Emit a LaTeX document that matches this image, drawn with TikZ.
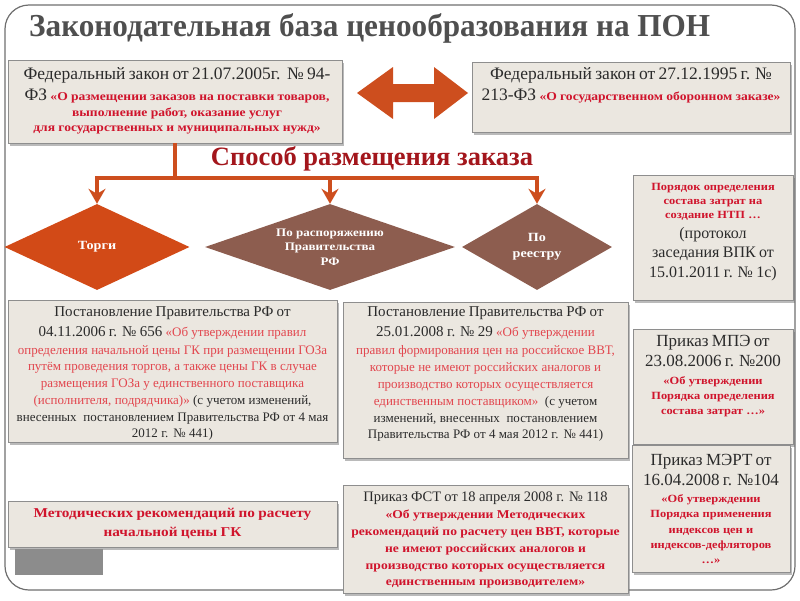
\documentclass[tikz,border=0pt]{standalone}
\usepackage{fontspec}
\setmainfont{Liberation Serif}
\newfontfamily\widefont[FakeStretch=1.13]{Liberation Serif}
\newfontfamily\titlefont[FakeStretch=0.975]{Liberation Serif}
\usetikzlibrary{shapes.geometric,shadows,arrows.meta}
\definecolor{boxfill}{HTML}{EBE7E0}
\definecolor{boxline}{HTML}{8E8E8E}
\definecolor{redb}{HTML}{D0142C}
\definecolor{redl}{HTML}{E2464E}
\definecolor{arrc}{HTML}{CD4E1E}
\definecolor{torgc}{HTML}{D24A17}
\definecolor{brownc}{HTML}{8D5D4F}
\definecolor{titlec}{HTML}{4F4F4F}
\definecolor{subc}{HTML}{A3161C}
\definecolor{framec}{HTML}{6E6E6E}
\definecolor{txtc}{HTML}{2B2B2B}
\definecolor{grayblk}{HTML}{8C8C8C}
\newcommand\BL[3]{{\fontsize{#1}{#2}\selectfont #3\par}}
\newcommand\RB[1]{{\color{redb}\widefont\bfseries #1}}
\newcommand\RL[1]{{\color{redl}#1}}
\tikzset{
 box/.style={draw=boxline, fill=boxfill, line width=0.8pt, inner sep=0pt,
   drop shadow={shadow xshift=2pt, shadow yshift=-2.5pt, opacity=0.45, fill=black!60}},
 txt/.style={inner sep=0pt, align=center, text=txtc, anchor=north},
 conn/.style={draw=arrc, line width=3.5pt},
 connarr/.style={conn, -{Stealth[length=15pt,width=17pt,inset=5pt]}},
 dia/.style={diamond, inner sep=0pt, text=white, align=center,
   font=\widefont\bfseries\fontsize{11.5}{14.5}\selectfont},
}
\begin{document}
\begin{tikzpicture}[x=1pt,y=-1pt]
\useasboundingbox (0,0) rectangle (800,600);
\draw[framec, line width=1.2pt, rounded corners=24pt] (5,5) rectangle (795,590);
\node[anchor=west, text=titlec, font=\titlefont\bfseries\fontsize{32}{36}\selectfont, inner sep=0pt] (title) at (29,28) {Законодательная база ценообразования на ПОН};

% top boxes
\node[box, minimum width=334pt, minimum height=83pt] (b1) at (175,101.5) {};
\node[txt, text width=360pt] (t1) at (177,67) {
\BL{17.5}{20}{Федеральный закон от 21.07.2005г.~~№~94-}
\BL{12}{21}{{\fontsize{17.5}{20}\selectfont ФЗ} \RB{«О размещении заказов на поставки товаров,}}
\BL{12}{16}{\RB{выполнение работ, оказание услуг}}
\BL{12}{15}{\RB{для государственных и муниципальных нужд»}}};

\node[box, minimum width=318pt, minimum height=70pt] (b2) at (631,97) {};
\node[txt, text width=330pt] (t2) at (631,67) {
\BL{17.5}{20}{Федеральный закон от 27.12.1995 г. №}
\BL{12}{21}{{\fontsize{17.5}{20}\selectfont 213-ФЗ} \RB{«О государственном оборонном заказе»}}};

\fill[arrc] (357,93) -- (393,67) -- (393,84) -- (434,84) -- (434,67) -- (468,93) -- (434,119) -- (434,102) -- (393,102) -- (393,119) -- cycle;

% method
\node[text=subc, font=\bfseries\fontsize{26.5}{29}\selectfont, inner sep=0pt] (sub) at (372,159) {Способ размещения заказа};

\node[dia, fill=torgc, aspect=2.15, minimum width=185pt, minimum height=86pt, font=\widefont\bfseries\fontsize{12.5}{15}\selectfont] (torgi) at (97,247) {Торги};
\node[dia, fill=brownc, aspect=2.9, minimum width=250pt, minimum height=86pt] (rasp) at (330,247) {По распоряжению\\Правительства\\РФ};
\node[dia, fill=brownc, aspect=1.74, minimum width=150pt, minimum height=86pt, font=\widefont\bfseries\fontsize{12.5}{16}\selectfont] (reestr) at (537,247) {По\\реестру};

\coordinate (bar) at (0,178);
\draw[conn] (b1.south) -- (b1.south |- bar);
\draw[connarr] (b1.south |- bar) -| (torgi.north);
\draw[connarr] (b1.south |- bar) -| (rasp.north);
\draw[connarr] (b1.south |- bar) -| (reestr.north);

% right column
\node[box, minimum width=160pt, minimum height=125pt] (bp) at (713,237.5) {};
\node[txt, text width=170pt] (tp) at (713,183) {
\BL{11}{14}{\RB{Порядок определения}}
\BL{11}{14}{\RB{состава затрат на}}
\BL{11}{14}{\RB{создание НТП …}}
\BL{16}{20}{(протокол}
\BL{16}{19}{заседания ВПК от}
\BL{16}{20}{15.01.2011 г. № 1с)}};

\node[box, minimum width=160pt, minimum height=115pt] (bm) at (713,387) {};
\node[txt, text width=170pt] (tm) at (713,335) {
\BL{17}{20}{Приказ МПЭ от}
\BL{17}{20}{23.08.2006 г. №200}
\BL{11}{18}{\RB{«Об утверждении}}
\BL{11}{15}{\RB{Порядка определения}}
\BL{11}{15}{\RB{состава затрат …»}}};

\node[box, minimum width=158pt, minimum height=127pt] (be) at (711,508.5) {};
\node[txt, text width=170pt] (te) at (711,454) {
\BL{17}{20}{Приказ МЭРТ от}
\BL{17}{20}{16.04.2008 г. №104}
\BL{11}{17}{\RB{«Об утверждении}}
\BL{11}{15.5}{\RB{Порядка применения}}
\BL{11}{15.5}{\RB{индексов цен и}}
\BL{11}{15.5}{\RB{индексов-дефляторов}}
\BL{11}{15}{\RB{…»}}};

% middle row
\node[box, minimum width=329pt, minimum height=142pt] (b3) at (172.5,371) {};
\node[txt, text width=360pt] (t3) at (172.5,306) {
\BL{15}{18}{Постановление Правительства РФ от}
\BL{15}{20}{04.11.2006 г. № 656 {\fontsize{13}{15}\selectfont\RL{«Об утверждении правил}}}
\BL{13}{18}{\RL{определения начальной цены ГК при размещении ГОЗа}}
\BL{13}{16.5}{\RL{путём проведения торгов, а также цены ГК в случае}}
\BL{13}{17}{\RL{размещения ГОЗа у единственного поставщика}}
\BL{13}{17}{\RL{(исполнителя, подрядчика)»} (с учетом изменений,}
\BL{13}{16.5}{внесенных~~постановлением Правительства РФ от 4 мая}
\BL{13}{16.5}{2012 г. № 441)}};

\node[box, minimum width=285pt, minimum height=156pt] (b4) at (485.5,380) {};
\node[txt, text width=320pt] (t4) at (485.5,306) {
\BL{15}{18}{Постановление Правительства РФ от}
\BL{15}{20}{25.01.2008 г. № 29 {\fontsize{13}{15}\selectfont\RL{«Об утверждении}}}
\BL{13}{18}{\RL{правил формирования цен на российское ВВТ,}}
\BL{13}{17}{\RL{которые не имеют российских аналогов и}}
\BL{13}{17}{\RL{производство которых осуществляется}}
\BL{13}{17}{\RL{единственным поставщиком»}~~(с учетом}
\BL{13}{17}{изменений, внесенных~~постановлением}
\BL{13}{16.5}{Правительства РФ от 4 мая 2012 г. № 441)}};

% bottom row
\node[box, minimum width=329pt, minimum height=46pt] (b5) at (172.5,524) {};
\node[txt, text width=340pt] (t5) at (172.5,508) {
\BL{13.5}{16}{\RB{Методических рекомендаций по расчету}}
\BL{13.5}{19}{\RB{начальной цены ГК}}};

\fill[grayblk] (15,549) rectangle (103,575);

\node[box, minimum width=285pt, minimum height=108pt] (b6) at (485.5,539) {};
\node[txt, text width=320pt] (t6) at (485.5,492) {
\BL{14.5}{17}{Приказ ФСТ от 18 апреля 2008 г. № 118}
\BL{12}{17}{\RB{«Об утверждении Методических}}
\BL{12}{17}{\RB{рекомендаций по расчету цен ВВТ, которые}}
\BL{12}{17}{\RB{не имеют российских аналогов и}}
\BL{12}{16.5}{\RB{производство которых осуществляется}}
\BL{12}{16.5}{\RB{единственным производителем»}}};
\end{tikzpicture}
\end{document}
